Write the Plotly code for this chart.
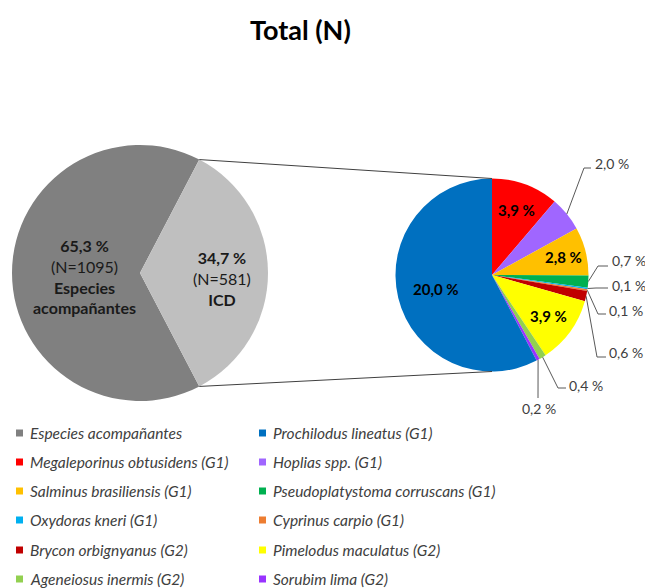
import math
import plotly.graph_objects as go

W, H = 645, 588
FONT = "Lato"

# Overall split of the catch
split_labels = ["Especies acompañantes", "ICD"]
split_counts = [1095, 581]
split_colors = ["#808080", "#BFBFBF"]

# ICD breakdown, as % of the total catch (clockwise from 12 o'clock)
icd_species = [
    "Megaleporinus obtusidens (G1)",
    "Hoplias spp. (G1)",
    "Salminus brasiliensis (G1)",
    "Pseudoplatystoma corruscans (G1)",
    "Oxydoras kneri (G1)",
    "Cyprinus carpio (G1)",
    "Brycon orbignyanus (G2)",
    "Pimelodus maculatus (G2)",
    "Ageneiosus inermis (G2)",
    "Sorubim lima (G2)",
    "Prochilodus lineatus (G1)",
]
icd_pct = [3.9, 2.0, 2.8, 0.7, 0.1, 0.1, 0.6, 3.9, 0.4, 0.2, 20.0]
icd_colors = [
    "#FF0000", "#A066FF", "#FFC000", "#00B050", "#00B0F0", "#ED7D31",
    "#C00000", "#FFFF00", "#92D050", "#9933FF", "#0070C0",
]

legend_order = [
    "Especies acompañantes", "Prochilodus lineatus (G1)",
    "Megaleporinus obtusidens (G1)", "Hoplias spp. (G1)",
    "Salminus brasiliensis (G1)", "Pseudoplatystoma corruscans (G1)",
    "Oxydoras kneri (G1)", "Cyprinus carpio (G1)",
    "Brycon orbignyanus (G2)", "Pimelodus maculatus (G2)",
    "Ageneiosus inermis (G2)", "Sorubim lima (G2)",
]

# ---- geometry (pixels, origin top-left) ----
L_CX, L_CY, L_R = 140, 273, 128
R_CX, R_CY, R_R = 492, 275, 96.5


def domain(cx, cy, r):
    return dict(x=[(cx - r) / W, (cx + r) / W], y=[1 - (cy + r) / H, 1 - (cy - r) / H])


def polar(cx, cy, r, deg):
    a = math.radians(deg)
    return cx + r * math.sin(a), cy - r * math.cos(a)


def fmt(v):
    return f"{v:.1f}".replace(".", ",") + " %"


total = sum(split_counts)
icd_share = split_counts[1] / total
left_rotation = 90 + 180 * icd_share  # keeps the ICD wedge centred at 3 o'clock

fig = go.Figure()

# helper axis spanning the whole page in pixel units (for lines and labels)
fig.add_trace(go.Scatter(x=[0, W], y=[0, H], mode="markers",
                         marker=dict(opacity=0), hoverinfo="skip", showlegend=False))

fig.add_trace(go.Pie(
    labels=split_labels, values=split_counts, sort=False, direction="clockwise",
    rotation=left_rotation, marker=dict(colors=split_colors, line=dict(width=0)),
    textinfo="none", hoverinfo="label+value+percent", domain=domain(L_CX, L_CY, L_R),
    showlegend=False,
))

fig.add_trace(go.Pie(
    labels=icd_species, values=icd_pct, sort=False, direction="clockwise",
    rotation=0, marker=dict(colors=icd_colors, line=dict(width=0)),
    textinfo="none", hoverinfo="label+value", domain=domain(R_CX, R_CY, R_R),
    showlegend=False,
))

shapes = []
annotations = []

# connector lines from the ICD wedge to the breakdown pie
for edge_deg, tgt_deg in [(90 - 180 * icd_share, 0), (90 + 180 * icd_share, 180)]:
    x0, y0 = polar(L_CX, L_CY, L_R, edge_deg)
    x1, y1 = polar(R_CX, R_CY, R_R, tgt_deg)
    shapes.append(dict(type="line", xref="x", yref="y", x0=x0, y0=y0, x1=x1, y1=y1,
                       line=dict(color="#404040", width=1), layer="above"))

# labels on the left pie
pct = [c / total * 100 for c in split_counts]
annotations.append(dict(
    x=84, y=276, xref="x", yref="y", showarrow=False,
    text=f"<b>{fmt(pct[0])}</b><br>(N={split_counts[0]})<br><b>Especies<br>acompañantes</b>",
    font=dict(family=FONT, size=16, color="#1a1a1a"), align="center"))
annotations.append(dict(
    x=222, y=278, xref="x", yref="y", showarrow=False,
    text=f"<b>{fmt(pct[1])}</b><br>(N={split_counts[1]})<br><b>{split_labels[1]}</b>",
    font=dict(family=FONT, size=16, color="#1a1a1a"), align="center"))

# slice mid-angles on the right pie
icd_total = sum(icd_pct)
mids = []
cum = 0.0
for v in icd_pct:
    mids.append((cum + v / 2) / icd_total * 360)
    cum += v

# bold labels inside the larger slices (radial fraction)
inside = {0: 0.72, 2: 0.76, 7: 0.72, 10: 0.6}
for i, frac in inside.items():
    x, y = polar(R_CX, R_CY, R_R * frac, mids[i])
    annotations.append(dict(x=x, y=y, xref="x", yref="y", showarrow=False,
                            text=f"<b>{fmt(icd_pct[i])}</b>",
                            font=dict(family=FONT, size=15, color="#000000")))

# outside labels with elbow leader lines: elbow, line end, text anchor
outside = {
    1: ((584, 168), (591, 168), (593, 163, "left")),
    3: ((598, 266), (608, 266), (610, 260, "left")),
    4: ((596, 288), (608, 288), (610, 285, "left")),
    5: ((598, 314), (606, 314), (607, 310, "left")),
    6: ((597, 357), (606, 357), (607, 352, "left")),
    8: ((558, 388), (566, 388), (567, 385, "left")),
    9: ((538, 398), (538, 398), (539, 408, "center")),
}
for i, (elbow, end, (tx, ty, anchor)) in outside.items():
    sx, sy = polar(R_CX, R_CY, R_R, mids[i])
    shapes.append(dict(type="path", xref="x", yref="y",
                       path=f"M{sx},{sy} L{elbow[0]},{elbow[1]} L{end[0]},{end[1]}",
                       line=dict(color="#595959", width=1), layer="above"))
    annotations.append(dict(x=tx, y=ty, xref="x", yref="y", showarrow=False,
                            xanchor=anchor, text=fmt(icd_pct[i]),
                            font=dict(family=FONT, size=14, color="#404040")))

# legend, two columns
color_of = dict(zip(split_labels, split_colors))
color_of.update(zip(icd_species, icd_colors))
row_y = [433, 462, 491, 520, 550, 579]
col_x = [16, 259]
for k, name in enumerate(legend_order):
    cx = col_x[k % 2]
    cy = row_y[k // 2]
    shapes.append(dict(type="rect", xref="x", yref="y", x0=cx, x1=cx + 7,
                       y0=cy - 3.5, y1=cy + 3.5, fillcolor=color_of[name],
                       line=dict(width=0)))
    annotations.append(dict(x=cx + 12, y=cy, xref="x", yref="y", showarrow=False,
                            xanchor="left", text=f"<i>{name}</i>",
                            font=dict(family=FONT, size=15.5, color="#404040")))

# title
annotations.append(dict(x=300, y=29, xref="x", yref="y", showarrow=False,
                        text="<b>Total (N)</b>",
                        font=dict(family=FONT, size=27, color="#000000")))

fig.update_layout(
    width=W, height=H, margin=dict(l=0, r=0, t=0, b=0),
    paper_bgcolor="white", plot_bgcolor="rgba(0,0,0,0)",
    showlegend=False, shapes=shapes, annotations=annotations,
    xaxis=dict(range=[0, W], visible=False, fixedrange=True, domain=[0, 1]),
    yaxis=dict(range=[H, 0], visible=False, fixedrange=True, domain=[0, 1]),
)

fig.write_html("out.html")
